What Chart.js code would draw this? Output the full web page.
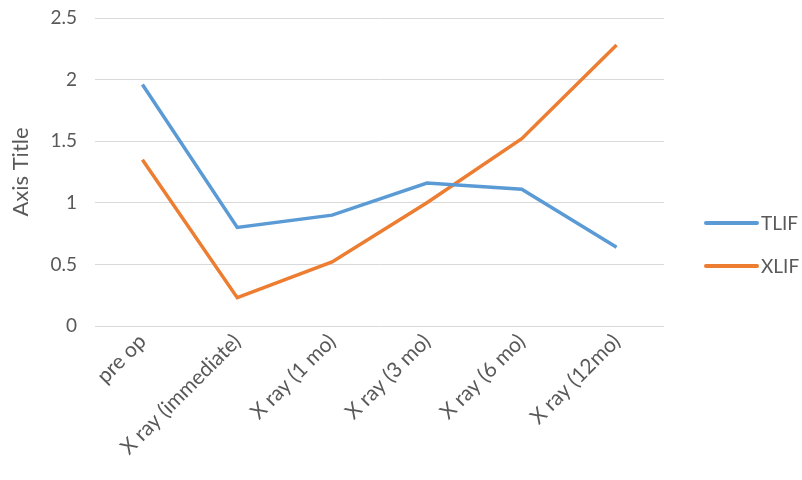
<!DOCTYPE html>
<html lang="en">
<head>
  <meta charset="UTF-8" />
  <title>TLIF vs XLIF</title>
  <script src="https://cdn.jsdelivr.net/npm/chart.js"></script>
  <style>
    * { margin: 0; padding: 0; box-sizing: border-box; }
    body { background: #fff; }
    #wrap { width: 802px; height: 480px; }
  </style>
</head>
<body>
  <div id="wrap"><canvas id="chart" width="802" height="480"></canvas></div>

  <script>
    const categories = ['pre op', 'X ray (immediate)', 'X ray (1 mo)', 'X ray (3 mo)', 'X ray (6 mo)', 'X ray (12mo)'];
    const tlif = [1.96, 0.80, 0.90, 1.16, 1.11, 0.64];
    const xlif = [1.35, 0.23, 0.52, 1.00, 1.52, 2.28];
    const yTicks = [0, 0.5, 1, 1.5, 2, 2.5];

    const grey = '#595959';
    const font = 'Lato, "Open Sans", sans-serif';

    // legend drawn on the right, centred on the whole canvas like Excel does
    const sideLegend = {
      id: 'sideLegend',
      afterDraw(chart) {
        const ctx = chart.ctx;
        const sets = chart.data.datasets;
        const startY = 223;
        ctx.save();
        sets.forEach((ds, i) => {
          const y = startY + i * 43;
          ctx.strokeStyle = ds.borderColor;
          ctx.lineWidth = 4;
          ctx.lineCap = 'round';
          ctx.beginPath();
          ctx.moveTo(706, y);
          ctx.lineTo(757, y);
          ctx.stroke();
          ctx.fillStyle = grey;
          ctx.font = '19px ' + font;
          ctx.textBaseline = 'middle';
          ctx.fillText(ds.label, 761, y + 1);
        });
        ctx.restore();
      }
    };

    new Chart(document.getElementById('chart'), {
      type: 'line',
      data: {
        labels: categories,
        datasets: [
          { label: 'TLIF', data: tlif, borderColor: '#5b9bd5', backgroundColor: '#5b9bd5', borderWidth: 3.5, pointRadius: 0, tension: 0 },
          { label: 'XLIF', data: xlif, borderColor: '#ed7d31', backgroundColor: '#ed7d31', borderWidth: 3.5, pointRadius: 0, tension: 0 }
        ]
      },
      options: {
        responsive: false,
        animation: false,
        layout: { padding: { top: 18, right: 138, left: 0, bottom: 0 } },
        plugins: {
          legend: { display: false },
          tooltip: { enabled: false }
        },
        scales: {
          x: {
            offset: true,
            grid: { display: false, drawTicks: false },
            border: { display: false },
            ticks: {
              color: grey,
              font: { family: font, size: 21 },
              minRotation: 45,
              maxRotation: 45,
              padding: 3
            },
            afterFit(scale) { scale.height = 154; }
          },
          y: {
            min: 0,
            max: 2.5,
            afterBuildTicks(scale) { scale.ticks = yTicks.map(v => ({ value: v })); },
            grid: { color: '#d9d9d9', lineWidth: 1, drawTicks: false },
            border: { display: false },
            ticks: {
              color: grey,
              font: { family: font, size: 19 },
              padding: 18,
              callback: v => String(v)
            },
            title: {
              display: true,
              text: 'Axis Title',
              color: grey,
              font: { family: font, size: 22 },
              padding: { top: 8, bottom: 0 }
            },
            afterFit(scale) {
              scale.width = 95;
              scale.paddingTop = 0;
              scale.paddingBottom = 0;
            }
          }
        }
      },
      plugins: [sideLegend]
    });
  </script>
</body>
</html>
